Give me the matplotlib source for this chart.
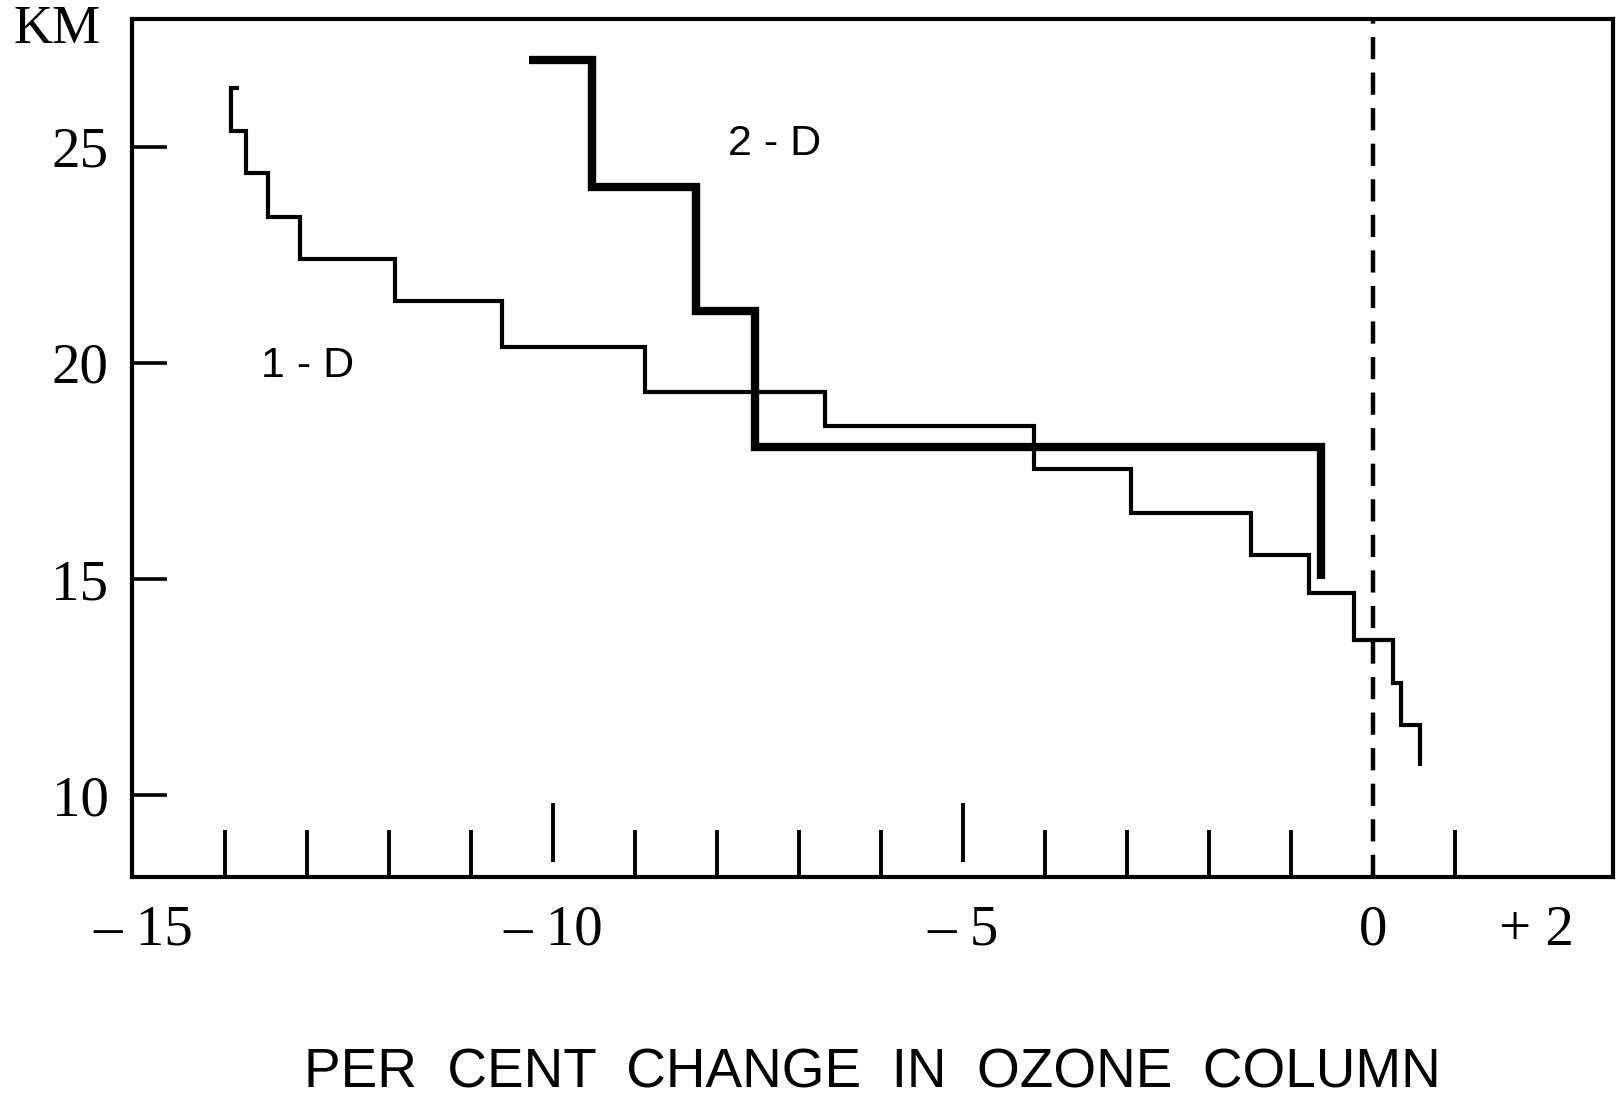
import numpy as np
import matplotlib
matplotlib.use("Agg")
import matplotlib.pyplot as plt

# ---- data ----
# 1-D model: vertical step segments (per cent change) and layer boundaries (km)
one_d_change = [-13.93, -13.75, -13.48, -13.09, -11.93, -10.63, -8.88, -6.68,
                -4.14, -2.95, -1.49, -0.78, -0.23, 0.25, 0.34, 0.57]
one_d_alt = [26.36, 25.36, 24.38, 23.38, 22.40, 21.42, 20.37, 19.32, 18.54,
             17.54, 16.53, 15.55, 14.67, 13.60, 12.60, 11.62, 10.69]
one_d_top_stub = -13.83

# 2-D model
two_d_change = [-9.53, -8.26, -7.54, -0.63]
two_d_alt = [27.00, 24.07, 21.21, 18.06, 15.01]
two_d_top_stub = -10.30

x_label_pos = [-15, -10, -5, 0, 2]
x_label_txt = ["\u2013 15", "\u2013 10", "\u2013 5", "0", "+ 2"]
x_minor_ticks = [-14, -13, -12, -11, -9, -8, -7, -6, -4, -3, -2, -1, 1, 2]
x_long_ticks = [-10, -5]
y_ticks = [10, 15, 20, 25]


def step_path(stub, xs, zs):
    px = [stub, xs[0]]
    pz = [zs[0], zs[0]]
    for i, x in enumerate(xs):
        if i > 0:
            px.append(x)
            pz.append(zs[i])
        px.append(x)
        pz.append(zs[i + 1])
    return np.array(px), np.array(pz)


SERIF = ["Liberation Serif", "DejaVu Serif"]
SANS = ["Liberation Sans", "DejaVu Sans"]

fig = plt.figure(figsize=(16.18, 10.99), dpi=100)
ax = fig.add_axes([0.0816, 0.2019, 0.9153, 0.7812])
ax.set_xlim(-15.14, 2.93)
ax.set_ylim(8.11, 27.96)

for s in ax.spines.values():
    s.set_linewidth(3.0)
    s.set_color("black")

# curves
x1, z1 = step_path(one_d_top_stub, one_d_change, one_d_alt)
ax.plot(x1, z1, color="black", lw=3.0, solid_joinstyle="miter",
        solid_capstyle="butt")
x2, z2 = step_path(two_d_top_stub, two_d_change, two_d_alt)
ax.plot(x2, z2, color="black", lw=6.0, solid_joinstyle="miter",
        solid_capstyle="butt")

# zero line
ax.axvline(0, color="black", lw=3.2, ls=(0, (5.0, 3.0)))

# ticks
ax.set_xticks(x_label_pos)
ax.set_xticklabels(x_label_txt, fontfamily=SERIF, fontsize=41)
ax.tick_params(axis="x", which="major", length=0, pad=20)
ax.set_xticks(x_minor_ticks, minor=True)
ax.tick_params(axis="x", which="minor", direction="in", length=34, width=2.8)
ax.vlines(x_long_ticks, 0.018, 0.0865, transform=ax.get_xaxis_transform(),
          color="black", lw=2.8)

ax.set_yticks(y_ticks)
ax.set_yticklabels([str(v) for v in y_ticks], fontfamily=SERIF, fontsize=41)
ax.tick_params(axis="y", which="major", direction="in", length=25, width=2.6,
               pad=17)

# annotations
ax.text(-7.30, 25.05, "2 - D", fontfamily=SANS, fontsize=31,
        ha="center", va="center")
ax.text(-13.0, 19.92, "1 - D", fontfamily=SANS, fontsize=31,
        ha="center", va="center")
fig.text(57 / 1618, 1 - 30 / 1099, "KM", fontfamily=SERIF, fontsize=39,
         ha="center", va="center")
fig.text(0.5393, 1 - 1073 / 1099, "PER  CENT  CHANGE  IN  OZONE  COLUMN",
         fontfamily=SANS, fontsize=39.5, ha="center", va="center")

fig.savefig("out.png", dpi=100)
